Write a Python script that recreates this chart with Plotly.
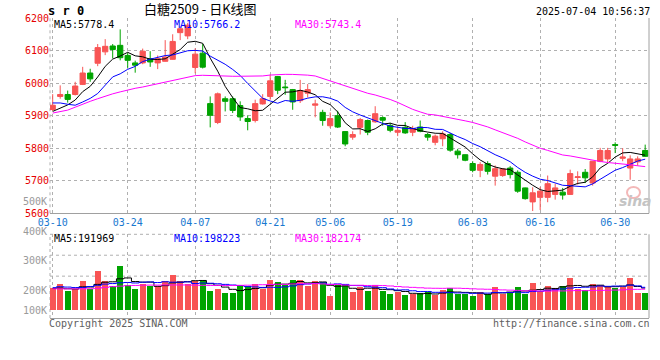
import plotly.graph_objects as go

# ---------------- data ----------------
dates = [
    "03-10", "03-11", "03-12", "03-13", "03-14", "03-17", "03-18", "03-19", "03-20", "03-21",
    "03-24", "03-25", "03-26", "03-27", "03-28", "03-31", "04-01", "04-02", "04-03", "04-07",
    "04-08", "04-09", "04-10", "04-11", "04-14", "04-15", "04-16", "04-17", "04-18", "04-21",
    "04-22", "04-23", "04-24", "04-25", "04-28", "04-29", "04-30", "05-06", "05-07", "05-08",
    "05-09", "05-12", "05-13", "05-14", "05-15", "05-16", "05-19", "05-20", "05-21", "05-22",
    "05-23", "05-26", "05-27", "05-28", "05-29", "05-30", "06-03", "06-04", "06-05", "06-06",
    "06-09", "06-10", "06-11", "06-12", "06-13", "06-16", "06-17", "06-18", "06-19", "06-20",
    "06-23", "06-24", "06-25", "06-26", "06-27", "06-30", "07-01", "07-02", "07-03", "07-04",
]

opens = [
    5919, 5959, 5965, 5965, 5996, 6031, 6061, 6096, 6114, 6116,
    6085, 6062, 6062, 6075, 6062, 6067, 6073, 6155, 6145, 6048,
    6092, 5937, 5879, 5952, 5952, 5931, 5891, 5885, 5936, 5959,
    6020, 5988, 5980, 5946, 5969, 5932, 5910, 5869, 5900, 5851,
    5834, 5864, 5885, 5881, 5894, 5870, 5849, 5864, 5849, 5865,
    5842, 5818, 5829, 5842, 5791, 5780, 5753, 5732, 5753, 5714,
    5716, 5739, 5726, 5678, 5635, 5649, 5649, 5658, 5665, 5658,
    5710, 5726, 5693, 5760, 5767, 5811, 5769, 5739, 5758, 5793,
]
highs = [
    5966, 5993, 5977, 6004, 6050, 6044, 6120, 6135, 6120, 6165,
    6094, 6069, 6106, 6098, 6085, 6132, 6150, 6175, 6185, 6107,
    6120, 5959, 5971, 5959, 5959, 5944, 5901, 5949, 5966, 6026,
    6022, 6010, 5982, 6010, 5997, 5949, 5918, 5910, 5915, 5852,
    5852, 5893, 5888, 5929, 5898, 5878, 5865, 5880, 5869, 5885,
    5847, 5842, 5852, 5847, 5798, 5781, 5760, 5757, 5760, 5747,
    5739, 5745, 5732, 5679, 5680, 5681, 5716, 5691, 5678, 5734,
    5729, 5736, 5760, 5801, 5801, 5818, 5800, 5778, 5775, 5811,
]
lows = [
    5914, 5952, 5940, 5962, 5994, 6004, 6052, 6086, 6076, 6070,
    6047, 6032, 6058, 6050, 6043, 6066, 6072, 6132, 6135, 6030,
    6045, 5864, 5874, 5913, 5908, 5884, 5855, 5879, 5934, 5949,
    5966, 5964, 5918, 5939, 5956, 5895, 5869, 5862, 5862, 5806,
    5826, 5842, 5840, 5878, 5869, 5849, 5837, 5844, 5837, 5849,
    5823, 5809, 5806, 5789, 5768, 5760, 5726, 5711, 5719, 5685,
    5712, 5707, 5663, 5642, 5607, 5610, 5634, 5642, 5642, 5657,
    5688, 5693, 5685, 5757, 5755, 5785, 5760, 5703, 5746, 5773,
]
closes = [
    5932, 5965, 5950, 5991, 6031, 6013, 6109, 6113, 6103, 6078,
    6070, 6055, 6098, 6065, 6075, 6080, 6128, 6167, 6178, 6089,
    6049, 5901, 5967, 5944, 5916, 5896, 5882, 5937, 5952, 6007,
    5978, 5986, 5942, 5977, 5980, 5936, 5885, 5891, 5865, 5813,
    5842, 5888, 5849, 5906, 5886, 5855, 5855, 5847, 5860, 5852,
    5834, 5837, 5844, 5794, 5780, 5763, 5732, 5750, 5729, 5737,
    5736, 5719, 5668, 5645, 5663, 5668, 5691, 5678, 5656, 5722,
    5712, 5709, 5760, 5793, 5793, 5809, 5773, 5767, 5767, 5775,
]

ma5 = [
    5913, 5922, 5933, 5948, 5973.8, 5990.0, 6018.8, 6051.4, 6073.8, 6083.2,
    6094.6, 6083.8, 6080.8, 6073.2, 6072.6, 6074.6, 6089.2, 6103.0, 6125.6, 6128.4,
    6122.2, 6076.8, 6036.8, 5990.0, 5955.4, 5924.8, 5921.0, 5915.0, 5916.6, 5934.8,
    5951.2, 5972.0, 5973.0, 5978.0, 5972.6, 5964.2, 5944.0, 5933.8, 5911.4, 5878.0,
    5859.2, 5859.8, 5851.4, 5859.6, 5874.2, 5876.8, 5870.2, 5869.8, 5860.6, 5853.8,
    5849.6, 5846.0, 5845.4, 5832.2, 5817.8, 5803.6, 5782.6, 5763.8, 5750.8, 5742.2,
    5736.8, 5734.2, 5717.8, 5701.0, 5686.2, 5672.6, 5667.0, 5669.0, 5671.2, 5683.0,
    5691.8, 5695.4, 5711.8, 5739.2, 5753.4, 5772.8, 5785.6, 5787.0, 5781.8, 5778.4,
]
ma10 = [
    5939, 5939, 5935, 5932, 5942, 5953, 5968, 5994, 6019, 6028.5,
    6042.3, 6051.3, 6066.1, 6073.5, 6077.9, 6084.6, 6086.5, 6091.9, 6099.4, 6100.5,
    6098.4, 6083.0, 6069.9, 6057.8, 6041.9, 6023.5, 5998.9, 5975.9, 5953.3, 5945.1,
    5938.0, 5946.5, 5944.0, 5947.3, 5953.7, 5957.7, 5958.0, 5953.4, 5944.7, 5925.3,
    5911.7, 5901.9, 5892.6, 5885.5, 5876.1, 5868.0, 5865.0, 5860.6, 5860.1, 5864.0,
    5863.2, 5858.1, 5857.6, 5846.4, 5835.8, 5826.6, 5814.3, 5804.6, 5791.5, 5780.0,
    5770.2, 5758.4, 5740.8, 5725.9, 5714.2, 5704.7, 5700.6, 5693.4, 5686.1, 5684.6,
    5682.2, 5681.2, 5690.4, 5705.2, 5718.2, 5732.3, 5740.5, 5749.4, 5760.5, 5766.2,
]
ma30 = [
    5908, 5912, 5917, 5926, 5936, 5944, 5952, 5960, 5967, 5973,
    5979, 5984, 5988, 5993, 5999, 6004, 6009, 6015, 6020, 6023,
    6024, 6023, 6021, 6021, 6021, 6021, 6021, 6021, 6022, 6024.7,
    6026.2, 6026.9, 6026.7, 6026.2, 6024.5, 6021.9, 6014.5, 6007.1, 5999.1, 5990.3,
    5982.7, 5977.1, 5968.8, 5963.5, 5957.2, 5949.7, 5940.6, 5930.0, 5919.4, 5911.5,
    5904.3, 5902.2, 5898.1, 5893.1, 5888.5, 5884.1, 5879.1, 5872.9, 5865.4, 5856.4,
    5848.4, 5839.5, 5830.3, 5819.3, 5808.7, 5799.8, 5793.3, 5786.2, 5779.2, 5776.2,
    5771.9, 5765.9, 5762.9, 5759.2, 5756.1, 5754.5, 5751.8, 5749.1, 5746.0, 5743.4,
]

# volume, thousands of lots
volumes_k = [
    189.7, 226.1, 160.9, 183.8, 251.6, 181.3, 336.3, 251.6, 203.3, 378.6,
    217.7, 183.8, 226.1, 203.3, 203.3, 245.6, 302.4, 251.6, 226.1, 245.6,
    254.1, 166.9, 183.8, 149.9, 149.9, 203.3, 209.2, 226.1, 183.8, 260.0,
    243.1, 211.8, 260.0, 260.0, 203.3, 251.6, 243.1, 118.6, 217.7, 217.7,
    152.5, 198.2, 166.9, 217.7, 166.9, 141.4, 155.8, 133.0, 138.9, 147.4,
    155.8, 133.0, 169.4, 189.7, 141.4, 141.4, 118.6, 155.8, 138.9, 200.7,
    138.9, 152.5, 200.7, 141.4, 234.6, 166.9, 209.2, 189.7, 209.2, 277.0,
    183.8, 175.3, 226.1, 217.7, 209.2, 189.7, 198.2, 277.0, 149.9, 149.9,
]
vol_ma5_k = [
    190, 192, 186, 184, 202.4, 200.7, 222.8, 240.9, 244.8, 270.2,
    277.5, 247.0, 241.9, 241.9, 206.8, 212.4, 236.1, 241.2, 245.8, 254.3,
    256.0, 228.9, 215.3, 200.1, 180.9, 170.8, 179.2, 187.7, 194.5, 216.5,
    224.4, 225.0, 231.7, 247.0, 235.6, 237.3, 243.6, 215.3, 206.9, 209.7,
    189.9, 180.9, 190.6, 190.6, 180.4, 178.2, 169.7, 163.0, 147.2, 143.3,
    146.2, 141.6, 148.9, 159.1, 157.9, 155.0, 152.1, 149.4, 139.2, 151.1,
    150.6, 157.4, 166.3, 166.8, 173.6, 179.2, 190.6, 188.4, 201.9, 210.4,
    213.8, 207.0, 214.3, 216.0, 202.4, 203.6, 208.2, 218.4, 204.8, 191.969,
]
vol_ma10_k = [
    195, 203, 200, 196, 196, 205, 215, 225, 230, 236.3,
    239.1, 234.9, 241.4, 243.4, 238.5, 245.0, 241.6, 241.6, 243.9, 230.6,
    234.2, 232.5, 228.3, 222.9, 217.6, 213.4, 204.0, 201.5, 197.3, 198.7,
    197.6, 202.1, 209.7, 220.7, 226.1, 230.9, 234.3, 223.5, 226.9, 222.7,
    213.6, 212.3, 203.0, 198.7, 195.1, 184.1, 175.3, 176.8, 168.9, 161.9,
    162.2, 155.7, 155.9, 153.1, 150.6, 150.6, 146.9, 149.1, 149.1, 154.5,
    152.8, 154.7, 157.9, 153.0, 162.4, 164.9, 174.0, 177.4, 184.4, 192.0,
    196.5, 198.8, 201.3, 209.0, 206.4, 208.7, 207.6, 216.3, 210.4, 198.223,
]
vol_ma30_k = [
    185, 185, 185, 185, 185, 186, 190, 198, 204, 208,
    212, 214, 216, 217, 217, 218, 218, 218, 218, 216,
    215, 214, 214, 214, 214, 215, 216, 218, 220, 221.9,
    223.6, 223.2, 226.5, 229.0, 227.4, 229.7, 226.6, 222.2, 222.7, 217.3,
    215.1, 215.6, 213.6, 214.1, 212.9, 209.4, 204.6, 200.6, 197.7, 194.4,
    191.1, 190.0, 189.5, 190.9, 190.6, 188.5, 185.5, 183.2, 181.7, 179.7,
    176.2, 174.2, 172.3, 168.3, 169.3, 166.5, 165.4, 167.8, 167.5, 169.5,
    170.5, 169.7, 171.7, 171.7, 173.1, 174.7, 176.1, 180.9, 181.3, 182.174,
]

date_ticks = ["03-10", "03-24", "04-07", "04-21", "05-06", "05-19", "06-03", "06-16", "06-30"]
price_ticks = [5600, 5700, 5800, 5900, 6000, 6100, 6200]
vol_tick_labels = ["500K", "400K", "300K", "200K", "100K"]

price_ma_names = ["MA5", "MA10", "MA30"]
price_ma_values = [5778.4, 5766.2, 5743.4]
vol_ma_values = [191969, 198223, 182174]

symbol = "s r 0"
title = "白糖2509 - 日K线图"
timestamp = "2025-07-04 10:56:37"
copyright_text = "Copyright 2025 SINA.COM"
url_text = "http://finance.sina.com.cn"

for arr in (opens, highs, lows, closes, ma5, ma10, ma30, volumes_k, vol_ma5_k, vol_ma10_k, vol_ma30_k):
    assert len(arr) == len(dates), len(arr)

# ---------------- style ----------------
RED = "#f85454"
GREEN = "#00a400"
MA_COLORS = ["#000000", "#0000ff", "#ff00ff"]
GRID = "#b0b0b0"
BORDER = "#a0a0a0"
MONO = "DejaVu Sans Mono"

W, H = 660, 360
ML, MR, MT, MB = 50, 11, 18, 42
PW, PH = W - ML - MR, H - MT - MB


def px(x):
    return (x - ML) / PW


def py(y):
    return (H - MB - y) / PH


price_dom = [py(213.3), 1.0]
vol_dom = [0.0, py(234.3)]

fig = go.Figure()

fig.add_trace(go.Candlestick(
    x=dates, open=opens, high=highs, low=lows, close=closes,
    xaxis="x", yaxis="y",
    increasing=dict(line=dict(color=RED, width=1), fillcolor=RED),
    decreasing=dict(line=dict(color=GREEN, width=1), fillcolor=GREEN),
    whiskerwidth=0, hoverinfo="skip",
))
for series, color in zip((ma5, ma10, ma30), MA_COLORS):
    fig.add_trace(go.Scatter(x=dates, y=series, mode="lines", xaxis="x", yaxis="y",
                             line=dict(color=color, width=1), hoverinfo="skip"))

vol_colors = [RED if c >= o else GREEN for o, c in zip(opens, closes)]
fig.add_trace(go.Bar(x=dates, y=volumes_k, xaxis="x2", yaxis="y2",
                     marker=dict(color=vol_colors, line=dict(width=0)), width=0.8,
                     hoverinfo="skip"))
for series, color in zip((vol_ma5_k, vol_ma10_k, vol_ma30_k), MA_COLORS):
    fig.add_trace(go.Scatter(x=dates, y=series, mode="lines", xaxis="x2", yaxis="y2",
                             line=dict(color=color, width=1, shape="hvh"), hoverinfo="skip"))

xrange = [-0.36, len(dates) - 0.49]
common_x = dict(type="category", range=xrange, tickvals=date_ticks, ticktext=date_ticks,
                showgrid=True, gridcolor=GRID, griddash="dot", gridwidth=1,
                showline=True, linecolor=BORDER, linewidth=1, ticks="", zeroline=False,
                rangeslider=dict(visible=False), fixedrange=True, automargin=False)

fig.update_layout(
    width=W, height=H,
    margin=dict(l=ML, r=MR, t=MT, b=MB, pad=0, autoexpand=False),
    paper_bgcolor="white", plot_bgcolor="white",
    showlegend=False, boxgap=0.3, boxgroupgap=0, bargap=0,
    xaxis=dict(common_x, anchor="y", domain=[0, 1], showticklabels=True,
               tickfont=dict(family=MONO, size=10, color="#1878d0")),
    yaxis=dict(domain=price_dom, range=[5600, 6200], tickvals=price_ticks,
               showgrid=True, gridcolor=GRID, griddash="dot", gridwidth=1,
               ticks="", zeroline=False, showline=False, fixedrange=True, automargin=False,
               tickfont=dict(family=MONO, size=10, color="#e60000")),
    xaxis2=dict(common_x, anchor="y2", domain=[0, 1], matches="x", showticklabels=False),
    yaxis2=dict(domain=vol_dom, range=[-61.8, 647.1], showgrid=False, zeroline=False,
                showticklabels=False, ticks="", showline=False, fixedrange=True, automargin=False),
)

shapes = []
# left dotted borders, right solid borders
for yd in ("y domain", "y2 domain"):
    shapes.append(dict(type="line", xref="x domain", yref=yd, x0=0, x1=0, y0=0, y1=1,
                       line=dict(color=GRID, width=1, dash="dot"), layer="below"))
    shapes.append(dict(type="line", xref="x domain", yref=yd, x0=1, x1=1, y0=0, y1=1,
                       line=dict(color=BORDER, width=1), layer="above"))
# volume panel dotted divisions
for f in (0.5, 0.75, 1.0):
    shapes.append(dict(type="line", xref="x2 domain", yref="y2 domain", x0=0, x1=1, y0=f, y1=f,
                       line=dict(color=GRID, width=1, dash="dot"), layer="below"))
# faint watermark emblem ring above the "sina" text
shapes.append(dict(type="circle", xref="paper", yref="paper",
                   x0=px(627), x1=px(640), y0=py(198), y1=py(187),
                   line=dict(color="#f3b8b8", width=2), layer="below"))
fig.update_layout(shapes=shapes)

ann = []


def text(x, y, s, color="#000", size=10, xanchor="left", family=MONO):
    ann.append(dict(x=px(x), y=py(y), xref="paper", yref="paper", text=s, showarrow=False,
                    xanchor=xanchor, yanchor="middle", font=dict(family=family, size=size, color=color),
                    borderpad=0, borderwidth=0))


text(48, 11, "<b>" + symbol + "</b>", size=12)
text(200, 8.5, title, size=13, xanchor="center", family="Noto Sans CJK SC")
text(650, 11.3, timestamp, xanchor="right")

hdr_x = [54, 174, 295]
for name, val, color, x in zip(price_ma_names, price_ma_values, MA_COLORS, hdr_x):
    text(x, 24, f"{name}:{val:.1f}", color=color)
for name, val, color, x in zip(price_ma_names, vol_ma_values, MA_COLORS, hdr_x):
    text(x, 238.5, f"{name}:{val}", color=color)

vol_label_y = [201, 231, 260.7, 290.7, 310.7]
for s, y in zip(vol_tick_labels, vol_label_y):
    text(47, y, s, color="#9a9a9a", xanchor="right")

text(49, 323.5, copyright_text, color="#606060")
text(650, 323.5, url_text, color="#606060", xanchor="right")
ann.append(dict(x=px(635), y=py(201), xref="paper", yref="paper", text="<b><i>sina</i></b>",
                showarrow=False, xanchor="center", yanchor="middle",
                font=dict(family="DejaVu Sans", size=14, color="#c4c4c4")))
fig.update_layout(annotations=ann)

fig.write_html("out.html", config={"displayModeBar": False},
               post_script="document.body.style.margin='0px';")
